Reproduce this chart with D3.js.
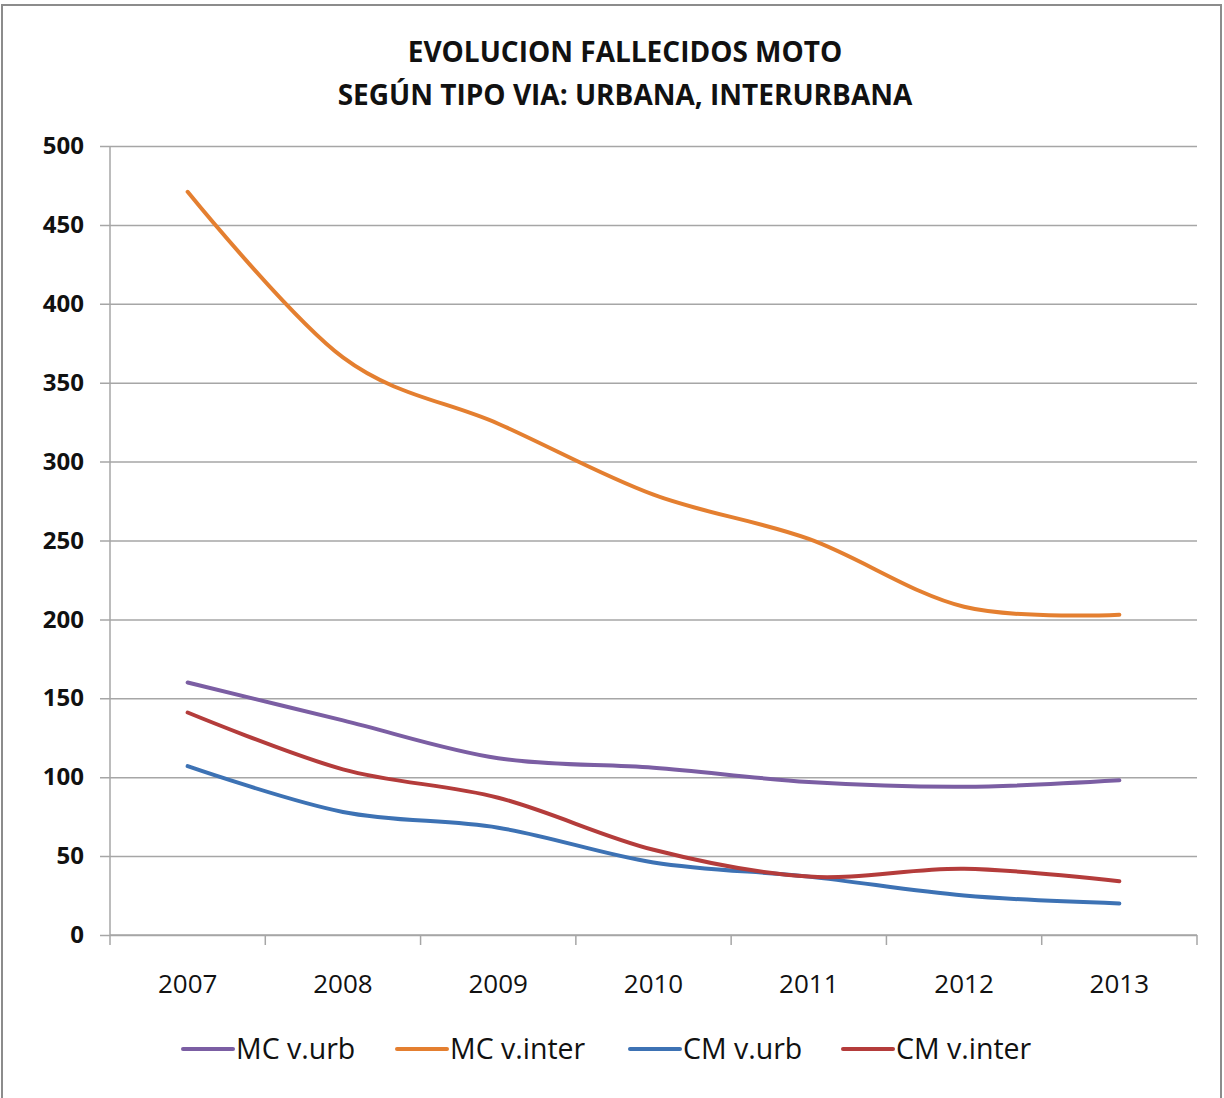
<!DOCTYPE html>
<html>
<head>
<meta charset="utf-8">
<script src="https://cdn.jsdelivr.net/npm/d3@7"></script>
<style>
  body { margin: 0; background: #fff; }
  svg { display: block; font-family: "Open Sans", sans-serif; }
</style>
</head>
<body>
<svg id="chart" width="1224" height="1098"></svg>
<script>
// data
var years = ["2007", "2008", "2009", "2010", "2011", "2012", "2013"];
var mcUrb = [160, 136, 112, 106, 97, 94, 98];
var mcInter = [471, 366, 324, 279, 251, 208, 203];
var cmUrb = [107, 78, 68, 46, 37, 25, 20];
var cmInter = [141, 105, 87, 54, 37, 42, 34];
var yTicks = [0, 50, 100, 150, 200, 250, 300, 350, 400, 450, 500];
var seriesNames = ["MC v.urb", "MC v.inter", "CM v.urb", "CM v.inter"];
var seriesColors = ["#7b5ea3", "#e47f30", "#3d72b4", "#b43c3b"];

var series = [mcUrb, mcInter, cmUrb, cmInter].map(function(vals, i) {
    return { name: seriesNames[i], color: seriesColors[i], values: vals };
});

var svg = d3.select("#chart");
var plotLeft = 110, plotRight = 1197, plotTop = 146, plotBottom = 935;

// outer frame
svg.append("rect")
    .attr("x", 2).attr("y", 5)
    .attr("width", 1219).attr("height", 1100)
    .attr("fill", "none")
    .attr("stroke", "#8c8c8c")
    .attr("stroke-width", 2);

var x = d3.scaleBand().domain(years).range([plotLeft, plotRight]);
var y = d3.scaleLinear().domain([0, 500]).range([plotBottom, plotTop]);

// title
var title = svg.append("text")
    .attr("text-anchor", "middle")
    .attr("font-weight", "bold")
    .attr("font-size", 28)
    .attr("fill", "#111");
title.append("tspan").attr("x", 625).attr("y", 62).text("EVOLUCION FALLECIDOS MOTO");
title.append("tspan").attr("x", 625).attr("y", 105).text("SEGÚN TIPO VIA: URBANA, INTERURBANA");

// gridlines + y axis
var yAxis = d3.axisLeft(y)
    .tickValues(yTicks)
    .tickSize(-(plotRight - plotLeft))
    .tickPadding(26);
var gy = svg.append("g").attr("transform", "translate(" + plotLeft + ",0)").call(yAxis);
gy.select(".domain").remove();
gy.selectAll(".tick line")
    .attr("x1", -10)
    .attr("stroke", "#a6a6a6")
    .attr("stroke-width", 1.5);
gy.selectAll(".tick text")
    .attr("font-family", "Open Sans, sans-serif")
    .attr("font-size", 24)
    .attr("font-weight", "bold")
    .attr("fill", "#111");

svg.append("line")
    .attr("x1", plotLeft).attr("x2", plotLeft)
    .attr("y1", plotTop).attr("y2", plotBottom)
    .attr("stroke", "#a6a6a6").attr("stroke-width", 1.5);

// x axis with ticks between categories
var bounds = years.map(function(d) { return x(d); }).concat([plotRight]);
svg.append("g").selectAll("line")
    .data(bounds)
    .enter().append("line")
    .attr("x1", function(d) { return d; })
    .attr("x2", function(d) { return d; })
    .attr("y1", plotBottom).attr("y2", plotBottom + 10)
    .attr("stroke", "#a6a6a6").attr("stroke-width", 1.5);
svg.append("line")
    .attr("x1", plotLeft).attr("x2", plotRight)
    .attr("y1", plotBottom).attr("y2", plotBottom)
    .attr("stroke", "#a6a6a6").attr("stroke-width", 1.5);
svg.append("g").selectAll("text")
    .data(years)
    .enter().append("text")
    .attr("x", function(d) { return x(d) + x.bandwidth() / 2; })
    .attr("y", 993)
    .attr("text-anchor", "middle")
    .attr("font-size", 26)
    .attr("fill", "#111")
    .text(function(d) { return d; });

// smoothed lines
var line = d3.line()
    .x(function(d, i) { return x(years[i]) + x.bandwidth() / 2; })
    .y(function(d) { return y(d); })
    .curve(d3.curveCatmullRom.alpha(0));

svg.append("g").selectAll("path")
    .data(series)
    .enter().append("path")
    .attr("d", function(d) { return line(d.values); })
    .attr("fill", "none")
    .attr("stroke", function(d) { return d.color; })
    .attr("stroke-width", 4)
    .attr("stroke-linecap", "round");

// legend
var legendX = [183, 397, 630, 843];
var leg = svg.append("g").selectAll("g")
    .data(series)
    .enter().append("g")
    .attr("transform", function(d, i) { return "translate(" + legendX[i] + ",1049)"; });
leg.append("line")
    .attr("x1", 0).attr("x2", 50)
    .attr("stroke", function(d) { return d.color; })
    .attr("stroke-width", 4)
    .attr("stroke-linecap", "round");
leg.append("text")
    .attr("x", 53).attr("y", 10)
    .attr("font-size", 28.5)
    .attr("fill", "#111")
    .text(function(d) { return d.name; });
</script>
</body>
</html>
